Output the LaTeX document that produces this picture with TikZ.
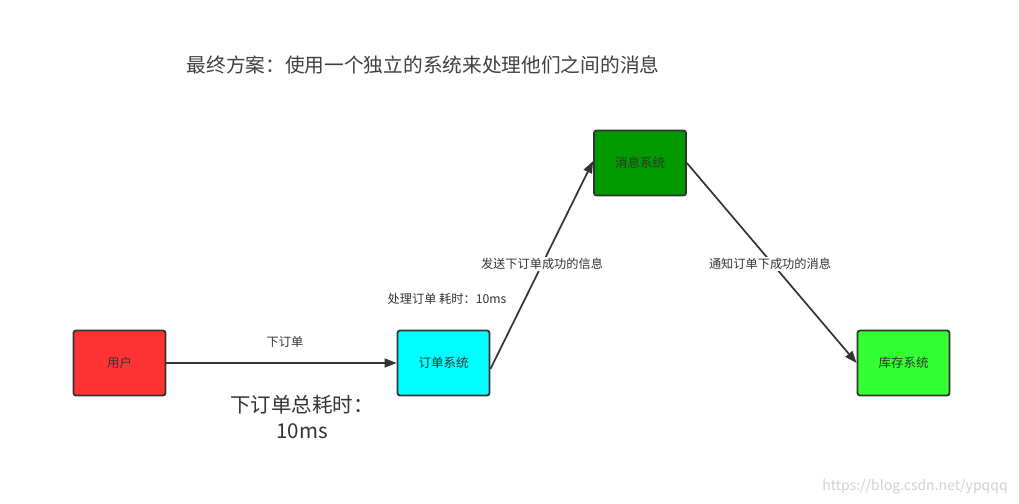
\documentclass[tikz,border=0pt]{standalone}
\usepackage{fontspec}
\setmainfont{Noto Sans CJK SC}
\usetikzlibrary{arrows.meta}
\definecolor{linec}{HTML}{333333}
\definecolor{txt}{HTML}{333333}
\definecolor{userred}{HTML}{FF3333}
\definecolor{ordercyan}{HTML}{00FFFF}
\definecolor{msggreen}{HTML}{009900}
\definecolor{stockgreen}{HTML}{33FF33}
\tikzset{
  sysbox/.style={draw=linec, line width=1.8pt, rounded corners=2.5pt, minimum width=92pt, minimum height=65pt, inner sep=0pt, font=\fontsize{12.5}{15}\selectfont, text=txt},
  conn/.style={draw=linec, line width=1.7pt, -{Triangle[length=12pt,width=9pt]}},
  lbl/.style={font=\fontsize{12.2}{14}\selectfont, text=txt, fill=white, inner sep=1pt},
}
\begin{document}
\begin{tikzpicture}[x=1pt,y=-1pt]
\useasboundingbox (0,0) rectangle (1019,503);
\fill[white] (0,0) rectangle (1019,503);
\node[font=\fontsize{19.7}{24}\selectfont, text=black!75] (title) at (423,65) {最终方案：使用一个独立的系统来处理他们之间的消息};
\node[sysbox, fill=userred] (user) at (119.5,363) {用户};
\node[sysbox, fill=ordercyan] (order) at (443.5,363) {订单系统};
\node[sysbox, fill=msggreen] (msg) at (640,163) {消息系统};
\node[sysbox, fill=stockgreen] (stock) at (903.5,363) {库存系统};
\draw[conn] (user.east) -- (order.west);
\draw[conn] ([yshift=-6pt]order.east) -- ([yshift=2pt]msg.west);
\draw[conn] (msg.east) -- (stock.west);
\node[lbl] (l1) at (285,342) {下订单};
\node[lbl] (l2) at (542,264) {发送下订单成功的信息};
\node[lbl] (l3) at (770,264) {通知订单下成功的消息};
\node[lbl] (l4) at (447,299) {处理订单 耗时：10ms};
\node[font=\fontsize{20.5}{26}\selectfont, text=black!80, align=center] (total) at (302,417) {下订单总耗时：\\10ms};
\node[font=\fontsize{14}{16}\selectfont, text=black!18] (wm) at (915,487) {https://blog.csdn.net/ypqqq};
\end{tikzpicture}
\end{document}
